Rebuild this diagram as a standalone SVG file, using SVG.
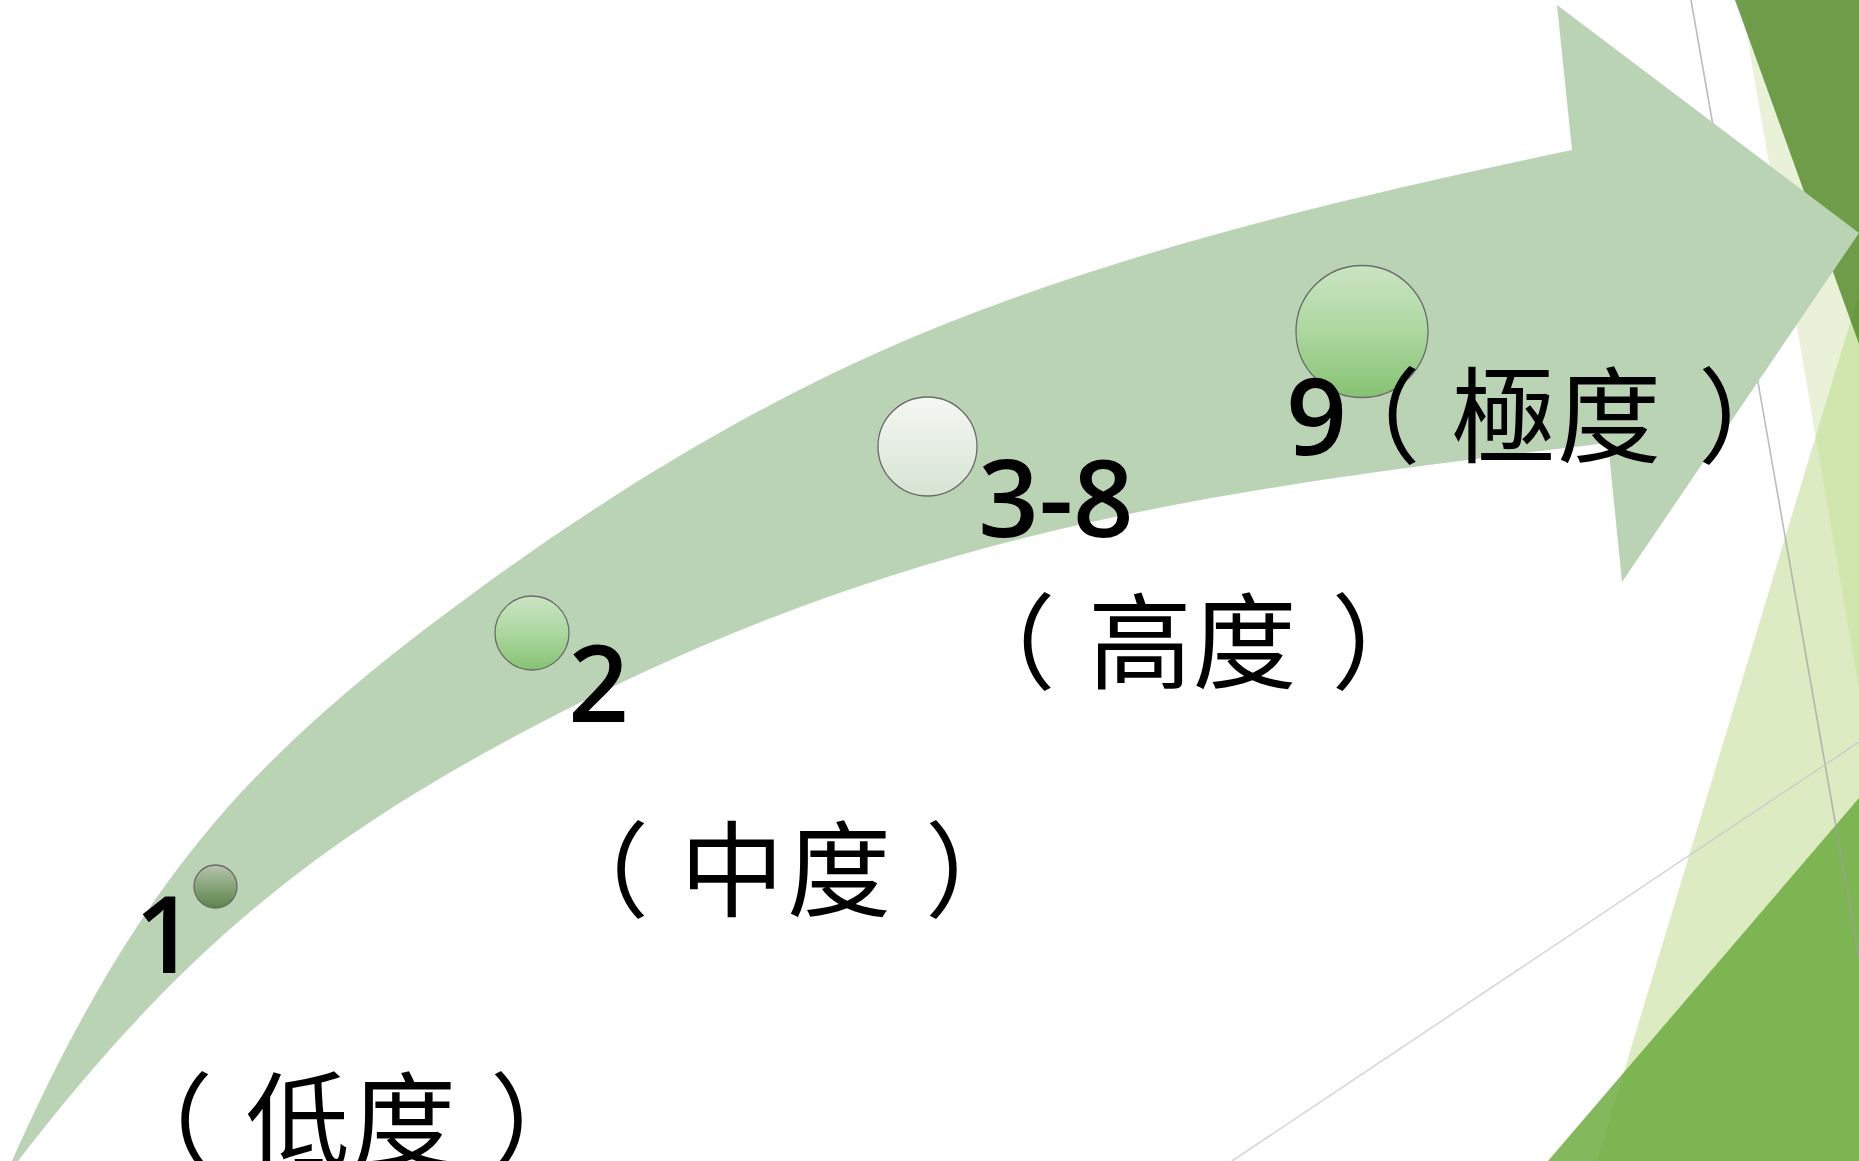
<svg xmlns="http://www.w3.org/2000/svg" width="1859" height="1161" viewBox="0 0 1859 1161">
  <defs>
    <linearGradient id="gDark" x1="0" y1="0" x2="0" y2="1">
      <stop offset="0" stop-color="#b6c4ae"/>
      <stop offset="1" stop-color="#5a8548"/>
    </linearGradient>
    <linearGradient id="gGreen" x1="0" y1="0" x2="0" y2="1">
      <stop offset="0" stop-color="#cae4c3"/>
      <stop offset="0.5" stop-color="#acd89f"/>
      <stop offset="1" stop-color="#86c272"/>
    </linearGradient>
    <linearGradient id="gPale" x1="0" y1="0" x2="0" y2="1">
      <stop offset="0" stop-color="#f5f7f3"/>
      <stop offset="1" stop-color="#d6e4d2"/>
    </linearGradient>
    <style>
      .dot { stroke: #6b6b6b; stroke-width: 1.3; }
      .lbl { font-family: "Noto Sans CJK TC", "Noto Sans", sans-serif; font-size: 104px; fill: #000; text-anchor: middle; }
      .num { font-family: "Open Sans", "Noto Sans", sans-serif; font-weight: 600; font-size: 106px; }
      .rule { fill: none; stroke-width: 1.6; }
    </style>
  </defs>

  <rect width="1859" height="1161" fill="#ffffff"/>

  <!-- decorative facets on the right edge -->
  <g id="facets">
    <polygon points="1741,0 1859,0 1859,690" fill="#b5d47f" fill-opacity="0.3"/>
    <polygon points="1859,293 1597,1161 1859,1161" fill="#b9d785" fill-opacity="0.5"/>
    <polygon points="1735,0 1859,0 1859,344" fill="#49821e" fill-opacity="0.77"/>
    <polygon points="1548,1161 1859,798 1859,1161" fill="#6dab3f" fill-opacity="0.85"/>
    <line class="rule" x1="1691" y1="0" x2="1859" y2="958" stroke="#a0a0a0" stroke-opacity="0.7"/>
    <line class="rule" x1="1232" y1="1161" x2="1859" y2="742" stroke="#c8c8c8" stroke-opacity="0.75"/>
  </g>

  <!-- curved up arrow -->
  <g id="connectors">
    <path id="arrow" fill="#bbd3b5" d="M12,1161 C62.4,1047.7 122,936.4 200,840 C279.9,741.3 380.3,660.7 483,586 C627.8,480.8 783.5,387.6 950,322 C1150,243.2 1361.7,194.7 1572,150 L1557,5 L1859,233 L1622,582 L1608,443 C1191,492 894,535 523,732 C302,849 170.5,963.5 18,1161 Z"/>
  </g>

  <g id="stage1">
    <circle class="dot" cx="215.5" cy="886.5" r="21.5" fill="url(#gDark)"/>
    <text class="lbl num" x="165" y="973">1</text>
    <text class="lbl" y="1160"><tspan x="161">（</tspan><tspan x="298">低</tspan><tspan x="404">度</tspan><tspan x="542">）</tspan></text>
  </g>

  <g id="stage2">
    <circle class="dot" cx="532" cy="633" r="37" fill="url(#gGreen)"/>
    <text class="lbl num" x="598.5" y="722">2</text>
    <text class="lbl" y="909"><tspan x="597">（</tspan><tspan x="732">中</tspan><tspan x="839">度</tspan><tspan x="977">）</tspan></text>
  </g>

  <g id="stage3">
    <circle class="dot" cx="927.5" cy="446.5" r="49.5" fill="url(#gPale)"/>
    <text class="lbl num" x="1056" y="537">3-8</text>
    <text class="lbl" y="681"><tspan x="1003.5">（</tspan><tspan x="1140">高</tspan><tspan x="1244.5">度</tspan><tspan x="1383.5">）</tspan></text>
  </g>

  <g id="stage4">
    <circle class="dot" cx="1362" cy="331.5" r="66" fill="url(#gGreen)"/>
    <text class="lbl" y="455"><tspan class="num" x="1316.5">9</tspan><tspan x="1368.5">（</tspan><tspan x="1503">極</tspan><tspan x="1609">度</tspan><tspan x="1750">）</tspan></text>
  </g>
</svg>
